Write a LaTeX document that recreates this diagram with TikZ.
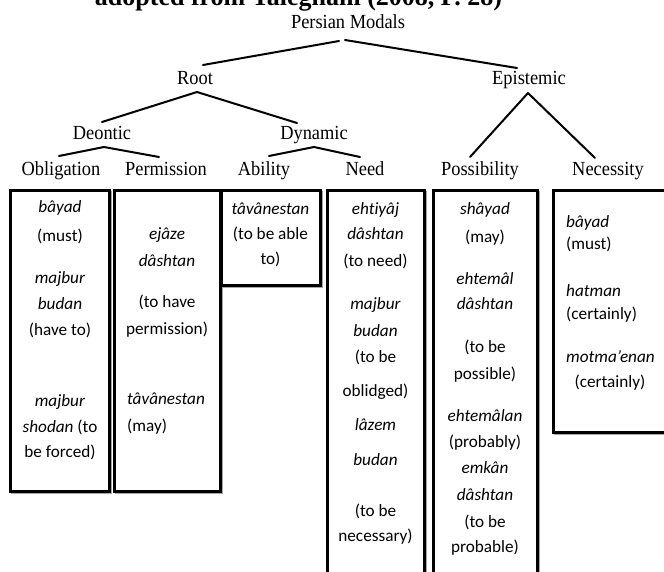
\documentclass[tikz,border=0pt]{standalone}
\usepackage{fontspec}
\setmainfont{Liberation Serif}[FakeStretch=0.92]
\newfontfamily\titlefont{Liberation Serif}
\newfontfamily\boxfont{Carlito}[Ligatures=NoCommon]
\usetikzlibrary{calc}
\begin{document}
\begin{tikzpicture}[x=1pt,y=-1pt,
  lbl/.style={inner sep=0pt, anchor=base, font=\fontsize{20}{23}\selectfont},
  tl/.style={line width=2pt, line cap=round},
  bx/.style={draw, line width=3pt, inner sep=0pt},
  shd/.style={draw=black!35, line width=1.5pt},
  tx/.style={inner sep=0pt, text height=11pt, text depth=3pt, font=\boxfont\fontsize{17.2}{20}\selectfont},
  txl/.style={tx, anchor=west}]
\useasboundingbox (0,0) rectangle (664,571);
\clip (0,0) rectangle (664,571);

% title (cut off at the top)
\node[inner sep=0pt, anchor=base, font=\titlefont\bfseries\fontsize{26}{30}\selectfont] (title) at (298.5,5) {adopted from Taleghani (2008, P. 28)};

% tree labels
\node[lbl] (pm)   at (348,28)  {Persian Modals};
\node[lbl] (root) at (195,84)  {Root};
\node[lbl] (epi)  at (529,84)  {Epistemic};
\node[lbl] (deo)  at (102,139) {Deontic};
\node[lbl] (dyn)  at (314,139) {Dynamic};
\node[lbl] (obl)  at (61,175)  {Obligation};
\node[lbl] (per)  at (166,175) {Permission};
\node[lbl] (abi)  at (264,175) {Ability};
\node[lbl] (nee)  at (365,175) {Need};
\node[lbl] (pos)  at (480,175) {Possibility};
\node[lbl] (nec)  at (608,175) {Necessity};

% tree lines
\draw[tl] ($(pm.base)+(-9,13)$) -- ($(root.base)+(8,-19)$);
\draw[tl] ($(pm.base)+(-3,12)$) -- ($(epi.base)+(-12,-16)$);
\draw[tl] ($(root.base)+(2,8)$) -- ($(deo.base)+(0,-17)$);
\draw[tl] ($(root.base)+(2,8)$) -- ($(dyn.base)+(-17,-16)$);
\draw[tl] ($(epi.base)+(-1,9)$) -- ($(pos.base)+(-10,-18)$);
\draw[tl] ($(epi.base)+(-1,9)$) -- ($(nec.base)+(-13,-17)$);
\draw[tl] ($(deo.base)+(2,8)$) -- ($(obl.base)+(-2,-19)$);
\draw[tl] ($(deo.base)+(2,8)$) -- ($(per.base)+(-7,-18)$);
\draw[tl] ($(dyn.base)+(0,8)$) -- ($(abi.base)+(5,-19)$);
\draw[tl] ($(dyn.base)+(0,8)$) -- ($(nee.base)+(-5,-18)$);

% box shadows
\draw[shd] (11.5,191.5) rectangle (111,493);
\draw[shd] (115.5,191.5) rectangle (222,493);
\draw[shd] (222.5,191.5) rectangle (322,287);
\draw[shd] (328.5,191.5) rectangle (426,590);
\draw[shd] (434.5,191.5) rectangle (539,590);
\draw[shd] (554.5,191.5) rectangle (690,434);

% boxes
\node[bx, minimum width=99pt,  minimum height=301pt] (bobl) at (59.5,340.5) {};
\node[bx, minimum width=106pt, minimum height=301pt] (bper) at (167,340.5) {};
\node[bx, minimum width=99pt,  minimum height=95pt]  (babi) at (270.5,237.5) {};
\node[bx, minimum width=97pt,  minimum height=390pt] (bnee) at (375.5,385) {};
\node[bx, minimum width=104pt, minimum height=390pt] (bpos) at (485,385) {};
\node[bx, minimum width=127pt, minimum height=242pt] (bnec) at (616.5,311) {};

% Obligation
\node[tx] (o1) at (60,208) {\textit{bâyad}};
\node[tx] (o2) at (60,237) {(must)};
\node[tx] (o3) at (60,279) {\textit{majbur}};
\node[tx] (o4) at (60,305) {\textit{budan}};
\node[tx] (o5) at (60,331) {(have to)};
\node[tx] (o6) at (60,402) {\textit{majbur}};
\node[tx] (o7) at (60,428) {\textit{shodan} (to};
\node[tx] (o8) at (60,453) {be forced)};

% Permission
\node[tx] (p1) at (167,235) {\textit{ejâze}};
\node[tx] (p2) at (167,262) {\textit{dâshtan}};
\node[tx] (p3) at (167,303) {(to have};
\node[tx] (p4) at (167,330) {permission)};
\node[txl] (p5) at (127,400) {\textit{tâvânestan}};
\node[txl] (p6) at (127,427) {(may)};

% Ability
\node[tx] (a1) at (270.5,210) {\textit{tâvânestan}};
\node[tx] (a2) at (270.5,235) {(to be able};
\node[tx] (a3) at (270.5,260) {to)};

% Need
\node[tx] (n1)  at (375.5,210) {\textit{ehtiyâj}};
\node[tx] (n2)  at (375.5,235) {\textit{dâshtan}};
\node[tx] (n3)  at (375.5,262) {(to need)};
\node[tx] (n4)  at (375.5,305) {\textit{majbur}};
\node[tx] (n5)  at (375.5,332) {\textit{budan}};
\node[tx] (n6)  at (375.5,358) {(to be};
\node[tx] (n7)  at (375.5,392) {oblidged)};
\node[tx] (n8)  at (375.5,426) {\textit{lâzem}};
\node[tx] (n9)  at (375.5,461) {\textit{budan}};
\node[tx] (n10) at (375.5,512) {(to be};
\node[tx] (n11) at (375.5,537) {necessary)};

% Possibility
\node[tx] (s1)  at (485,210) {\textit{shâyad}};
\node[tx] (s2)  at (485,238) {(may)};
\node[tx] (s3)  at (485,280) {\textit{ehtemâl}};
\node[tx] (s4)  at (485,305) {\textit{dâshtan}};
\node[tx] (s5)  at (485,348) {(to be};
\node[tx] (s6)  at (485,375) {possible)};
\node[tx] (s7)  at (485,417) {\textit{ehtemâlan}};
\node[tx] (s8)  at (485,443) {(probably)};
\node[tx] (s9)  at (485,469) {\textit{emkân}};
\node[tx] (s10) at (485,496) {\textit{dâshtan}};
\node[tx] (s11) at (485,523) {(to be};
\node[tx] (s12) at (485,548) {probable)};

% Necessity
\node[txl] (e1) at (566,223) {\textit{bâyad}};
\node[txl] (e2) at (566,245) {(must)};
\node[txl] (e3) at (566,292) {\textit{hatman}};
\node[txl] (e4) at (566,315) {(certainly)};
\node[txl] (e5) at (566,358) {\textit{motma’enan}};
\node[tx]  (e6) at (610,383) {(certainly)};
\end{tikzpicture}
\end{document}
